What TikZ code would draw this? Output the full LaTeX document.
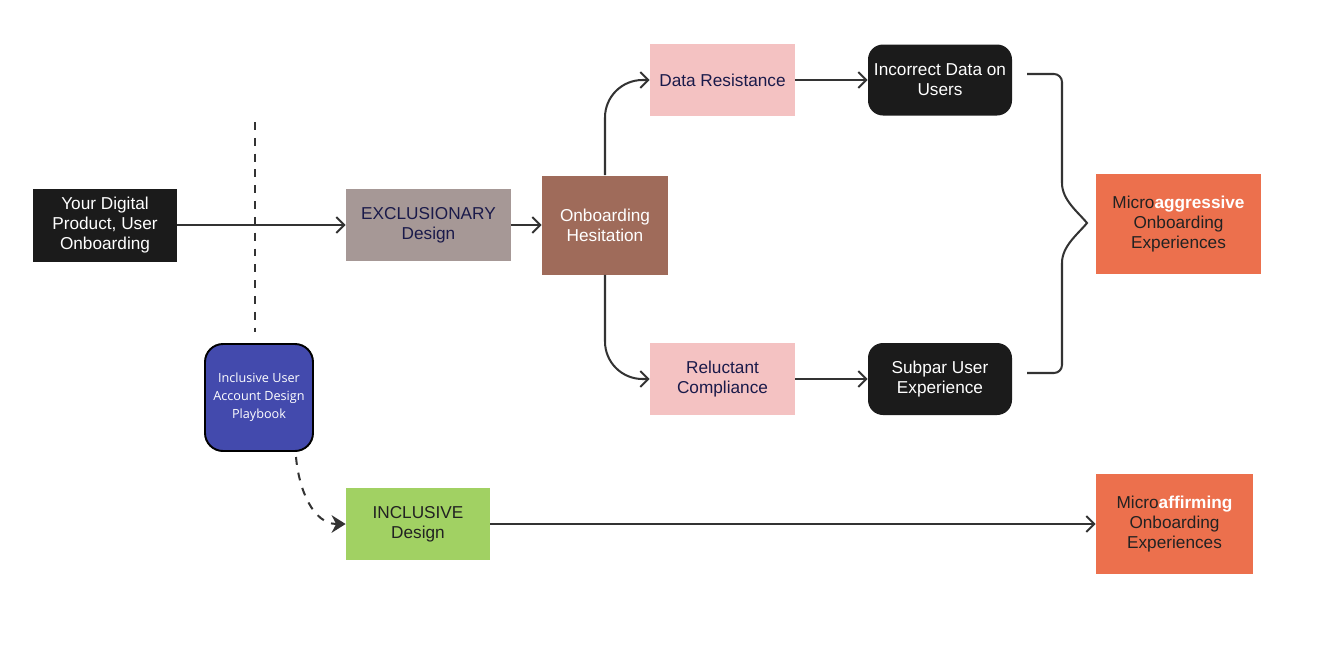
\documentclass[tikz,border=0pt]{standalone}
\usepackage{fontspec}
\setmainfont{Liberation Sans}
\newfontfamily\playfont{Open Sans}
\usetikzlibrary{arrows.meta}

\definecolor{boxblack}{HTML}{1B1B1B}
\definecolor{exclfill}{HTML}{A69896}
\definecolor{hesfill}{HTML}{9F6B5A}
\definecolor{pinkfill}{HTML}{F4C2C2}
\definecolor{orangefill}{HTML}{EC704D}
\definecolor{greenfill}{HTML}{A1D163}
\definecolor{bookblue}{HTML}{434AAD}
\definecolor{navytext}{HTML}{1A1A4A}
\definecolor{darktext}{HTML}{222222}
\definecolor{linegray}{HTML}{333333}

\begin{document}
\begin{tikzpicture}[x=0.02cm,y=-0.02cm,
    box/.style={inner sep=0pt, align=center, font=\fontsize{9.8}{11.4}\selectfont},
    sz/.style 2 args={minimum width={#1*0.02cm}, minimum height={#2*0.02cm}},
    blackbox/.style={box, fill=boxblack, text=white},
    pinkbox/.style={box, fill=pinkfill, text=navytext},
    orangebox/.style={box, fill=orangefill, text=darktext},
    arr/.style={draw=linegray, line width=1.15pt, -{Straight Barb[length=4.5pt,width=9pt]}},
    dasharr/.style={draw=linegray, line width=1.15pt, dash pattern=on 4.5pt off 4.5pt,
        -{Stealth[length=8pt,width=10pt]}}]
    \useasboundingbox (0,0) rectangle (1340,650);

    % top row
    \node[blackbox, sz={144}{73}] (product) at (105,225) {Your Digital\\Product, User\\Onboarding};
    \node[box, fill=exclfill, text=navytext, sz={165}{72}] (excl) at (428.5,225) {EXCLUSIONARY\\Design};
    \node[box, fill=hesfill, text=white, sz={126}{99}] (hes) at (605,225) {Onboarding\\Hesitation};
    \node[pinkbox, sz={145}{72}] (resist) at (722.5,80) {Data Resistance};
    \node[blackbox, rounded corners=0.3cm, sz={144}{71}] (wrongdata) at (940,80) {Incorrect Data on\\Users};
    \node[pinkbox, sz={145}{72}] (comply) at (722.5,379) {Reluctant\\Compliance};
    \node[blackbox, rounded corners=0.3cm, sz={144}{72}] (subpar) at (940,379) {Subpar User\\Experience};
    \node[orangebox, sz={165}{100}] (aggr) at (1178.5,224) {Micro\textcolor{white}{\textbf{aggressive}}\\Onboarding\\Experiences};

    % bottom row
    \node[box, fill=bookblue, draw=black, line width=1.1pt, rounded corners=0.36cm, text=white,
        font=\playfont\fontsize{7.2}{10.2}\selectfont, sz={108}{107}] (book) at (259,397.5)
        {Inclusive User\\Account Design\\Playbook};
    \node[box, fill=greenfill, text=darktext, sz={144}{72}] (incl) at (418,524) {INCLUSIVE\\Design};
    \node[orangebox, sz={157}{100}] (affirm) at (1174.5,524) {Micro\textcolor{white}{\textbf{affirming}}\\Onboarding\\Experiences};

    % divider
    \coordinate (divtop) at (255,122);
    \coordinate (divbot) at (255,332);
    \draw[linegray, line width=1.15pt, dash pattern=on 4.5pt off 4.5pt] (divtop) -- (divbot);

    % connectors
    \draw[arr] (product) -- (excl);
    \draw[arr] (excl) -- (hes);
    \draw[arr, rounded corners=0.75cm] (hes.north) |- (resist.west);
    \draw[arr, rounded corners=0.75cm] (hes.south) |- (comply.west);
    \draw[arr] (resist) -- (wrongdata);
    \draw[arr] (comply) -- (subpar);
    \draw[arr] (incl) -- (affirm);
    \coordinate (dashstart) at (296,457);
    \draw[dasharr] (dashstart) to[out=-85,in=180] (incl.west);

    % brace
    \coordinate (bracetop) at (1027,74);
    \coordinate (bracebot) at (1027,373);
    \coordinate (bracetip) at (1087,223);
    \draw[linegray, line width=1.15pt] (bracetop) -- (1054,74) to[out=0,in=90] (1062,82) -- (1062,183)
        .. controls (1062,200) and (1078,212) .. (bracetip)
        .. controls (1078,234) and (1062,246) .. (1062,263)
        -- (1062,365) to[out=-90,in=0] (1054,373) -- (bracebot);
\end{tikzpicture}
\end{document}
